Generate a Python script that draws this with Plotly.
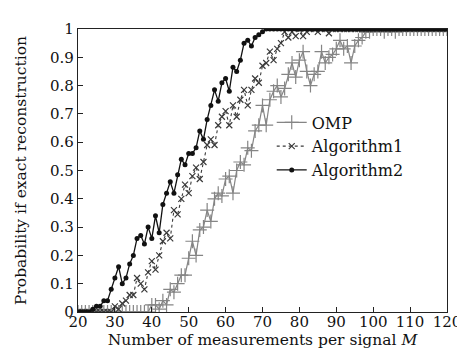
import plotly.graph_objects as go

M = list(range(20, 121))

omp = [0]*20 + [
    0.025, 0.025, 0.01, 0.04, 0.025, 0.08, 0.07, 0.10, 0.13, 0.13,   # 40-49
    0.19, 0.25, 0.20, 0.29, 0.30, 0.36, 0.32, 0.40, 0.42, 0.41,      # 50-59
    0.47, 0.48, 0.42, 0.50, 0.53, 0.52, 0.58, 0.57, 0.64, 0.66,      # 60-69
    0.73, 0.66, 0.75, 0.78, 0.80, 0.76, 0.79, 0.84, 0.88, 0.83,      # 70-79
    0.89, 0.92, 0.85, 0.80, 0.84, 0.85, 0.92, 0.88, 0.90, 0.91,      # 80-89
    0.93, 0.96, 0.93, 0.94, 0.88, 0.94, 0.96, 0.97, 0.99, 0.99,      # 90-99
    1, 1, 1, 0.99, 1, 1, 0.99, 1, 1, 1,                              # 100-109
    1, 1, 1, 1, 1, 1, 1, 1, 1, 1, 1                                  # 110-120
]

alg1 = [0]*10 + [
    0.02, 0.01, 0.03, 0.04, 0.06, 0.06, 0.12, 0.10, 0.08, 0.14,      # 30-39
    0.18, 0.15, 0.20, 0.25, 0.28, 0.26, 0.36, 0.345, 0.40, 0.45,     # 40-49
    0.42, 0.48, 0.51, 0.47, 0.53, 0.59, 0.61, 0.59, 0.66, 0.69,      # 50-59
    0.71, 0.66, 0.73, 0.69, 0.75, 0.785, 0.73, 0.785, 0.825, 0.81,   # 60-69
    0.87, 0.88, 0.92, 0.89, 0.93, 0.95, 0.99, 0.97, 0.99, 0.975,     # 70-79
    1, 0.975, 0.99, 1, 1, 0.99, 1, 1, 0.985, 1,                      # 80-89
] + [1]*31

alg2 = [0, 0, 0, 0, 0.01, 0.02, 0.02, 0.04, 0.04, 0.08,             # 20-29
    0.12, 0.16, 0.10, 0.12, 0.17, 0.20, 0.26, 0.27, 0.24, 0.30,      # 30-39
    0.26, 0.34, 0.28, 0.38, 0.42, 0.46, 0.42, 0.485, 0.54, 0.52,     # 40-49
    0.56, 0.56, 0.58, 0.64, 0.61, 0.68, 0.73, 0.785, 0.745, 0.81,    # 50-59
    0.825, 0.78, 0.865, 0.85, 0.89, 0.95, 0.96, 0.94, 0.97, 0.98,    # 60-69
    0.99, 1, 1, 1, 1, 1, 1, 1, 1, 1,                                 # 70-79
] + [1]*41

FONT = "DejaVu Serif"

fig = go.Figure()
fig.add_trace(go.Scatter(
    x=M, y=omp, name="OMP", mode="lines+markers",
    line=dict(color="#858585", width=1.2),
    marker=dict(symbol="cross-thin-open", size=10, line=dict(color="#858585", width=1.2)),
))
fig.add_trace(go.Scatter(
    x=M, y=alg1, name="Algorithm1", mode="lines+markers",
    line=dict(color="#3a3a3a", width=1.1, dash="dot"),
    marker=dict(symbol="x-thin-open", size=6, line=dict(color="#3a3a3a", width=1.2)),
))
fig.add_trace(go.Scatter(
    x=M, y=alg2, name="Algorithm2", mode="lines+markers",
    line=dict(color="#111111", width=1.3),
    marker=dict(symbol="circle", size=5, color="#111111"),
))

fig.update_layout(
    width=465, height=351,
    margin=dict(l=70, r=22, t=13, b=47),
    paper_bgcolor="white", plot_bgcolor="white",
    font=dict(family=FONT, size=15, color="#111111"),
    showlegend=True,
    legend=dict(x=0.525, y=0.73, xanchor="left", yanchor="top",
                bgcolor="rgba(0,0,0,0)", font=dict(family=FONT, size=16),
                tracegroupgap=0),
)
fig.update_xaxes(
    range=[20, 120], dtick=10, tick0=20,
    showline=True, mirror=True, linecolor="#222", linewidth=1.3,
    ticks="inside", ticklen=5, tickcolor="#222", showgrid=False, zeroline=False,
    tickfont=dict(family=FONT, size=15), ticklabelstandoff=-4,
    title=dict(text="Number of measurements per signal <i>M</i>", font=dict(family=FONT, size=15.5), standoff=3),
)
fig.update_yaxes(
    range=[0, 1], dtick=0.1, tick0=0,
    showline=True, mirror=True, linecolor="#222", linewidth=1.3,
    ticks="inside", ticklen=5, tickcolor="#222", showgrid=False, zeroline=False,
    tickfont=dict(family=FONT, size=15),
    title=dict(text="Probability if exact reconstruction", font=dict(family=FONT, size=15.5), standoff=19),
)

fig.write_html("out.html")
